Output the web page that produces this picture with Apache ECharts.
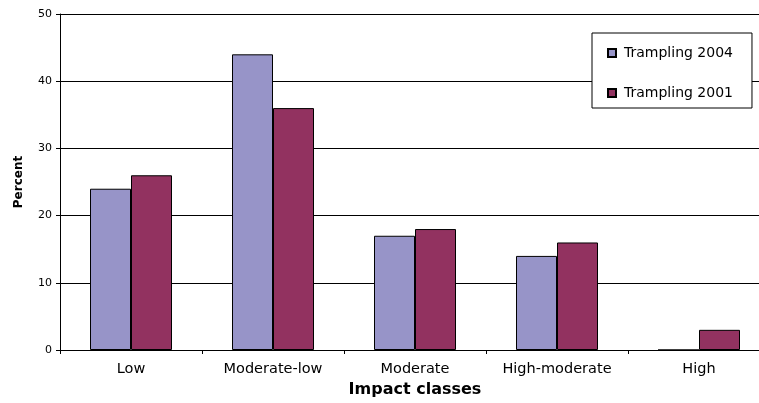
<!DOCTYPE html>
<html>
<head>
<meta charset="utf-8">
<script src="https://cdn.jsdelivr.net/npm/echarts@6/dist/echarts.min.js"></script>
<style>
  html, body { margin: 0; padding: 0; background: #ffffff; overflow: hidden; }
  #chart { width: 770px; height: 403px; }
</style>
</head>
<body>
<div id="chart"></div>
<script>
// Impact classes of trampling, share of sites per class (percent)
const categories = ['Low', 'Moderate-low', 'Moderate', 'High-moderate', 'High'];
const trampling2004 = [24, 44, 17, 14, 0];
const trampling2001 = [26, 36, 18, 16, 3];
const yTicks = { min: 0, max: 50, interval: 10 };

const FONT = 'DejaVu Sans';

const chart = echarts.init(document.getElementById('chart'), null, { renderer: 'canvas' });

chart.setOption({
  animation: false,
  backgroundColor: '#ffffff',
  // plot area runs slightly past the right edge of the visible page
  grid: { left: 60, top: 14, bottom: 52.5, right: 0, containLabel: false },
  legend: {
    orient: 'vertical',
    left: 592,
    top: 33,
    padding: [13, 19, 8, 15],
    itemGap: 26,
    itemWidth: 8,
    itemHeight: 8,
    backgroundColor: '#ffffff',
    borderColor: '#000000',
    borderWidth: 1,
    borderRadius: 0,
    icon: 'rect',
    textStyle: { fontFamily: FONT, fontSize: 14, color: '#000000', lineHeight: 14, padding: [0, 0, 0, 3] },
    data: ['Trampling 2004', 'Trampling 2001']
  },
  xAxis: {
    type: 'category',
    data: categories,
    boundaryGap: true,
    name: 'Impact classes',
    nameLocation: 'middle',
    nameGap: 32,
    nameTextStyle: { fontFamily: FONT, fontSize: 16, fontWeight: 'bold', color: '#000000' },
    axisLine: { lineStyle: { color: '#000000', width: 1 } },
    axisTick: { show: true, length: 4, lineStyle: { color: '#000000' } },
    axisLabel: { fontFamily: FONT, fontSize: 14.5, color: '#000000', margin: 12, interval: 0 },
    splitLine: { show: false }
  },
  yAxis: {
    type: 'value',
    min: yTicks.min,
    max: yTicks.max,
    interval: yTicks.interval,
    name: 'Percent',
    nameLocation: 'middle',
    nameGap: 35,
    nameTextStyle: { fontFamily: FONT, fontSize: 12, fontWeight: 'bold', color: '#000000' },
    axisLine: { show: true, lineStyle: { color: '#000000', width: 1 } },
    axisTick: { show: true, length: 4, lineStyle: { color: '#000000' } },
    axisLabel: { fontFamily: FONT, fontSize: 11, color: '#000000', margin: 8 },
    splitLine: { show: true, lineStyle: { color: '#000000', width: 1 } }
  },
  series: [
    {
      name: 'Trampling 2004',
      type: 'bar',
      data: trampling2004,
      barWidth: 41,
      barGap: '0%',
      itemStyle: { color: '#9794c8', borderColor: '#000000', borderWidth: 1 }
    },
    {
      name: 'Trampling 2001',
      type: 'bar',
      data: trampling2001,
      barWidth: 41,
      barGap: '0%',
      itemStyle: { color: '#923260', borderColor: '#000000', borderWidth: 1 }
    }
  ]
});
</script>
</body>
</html>
